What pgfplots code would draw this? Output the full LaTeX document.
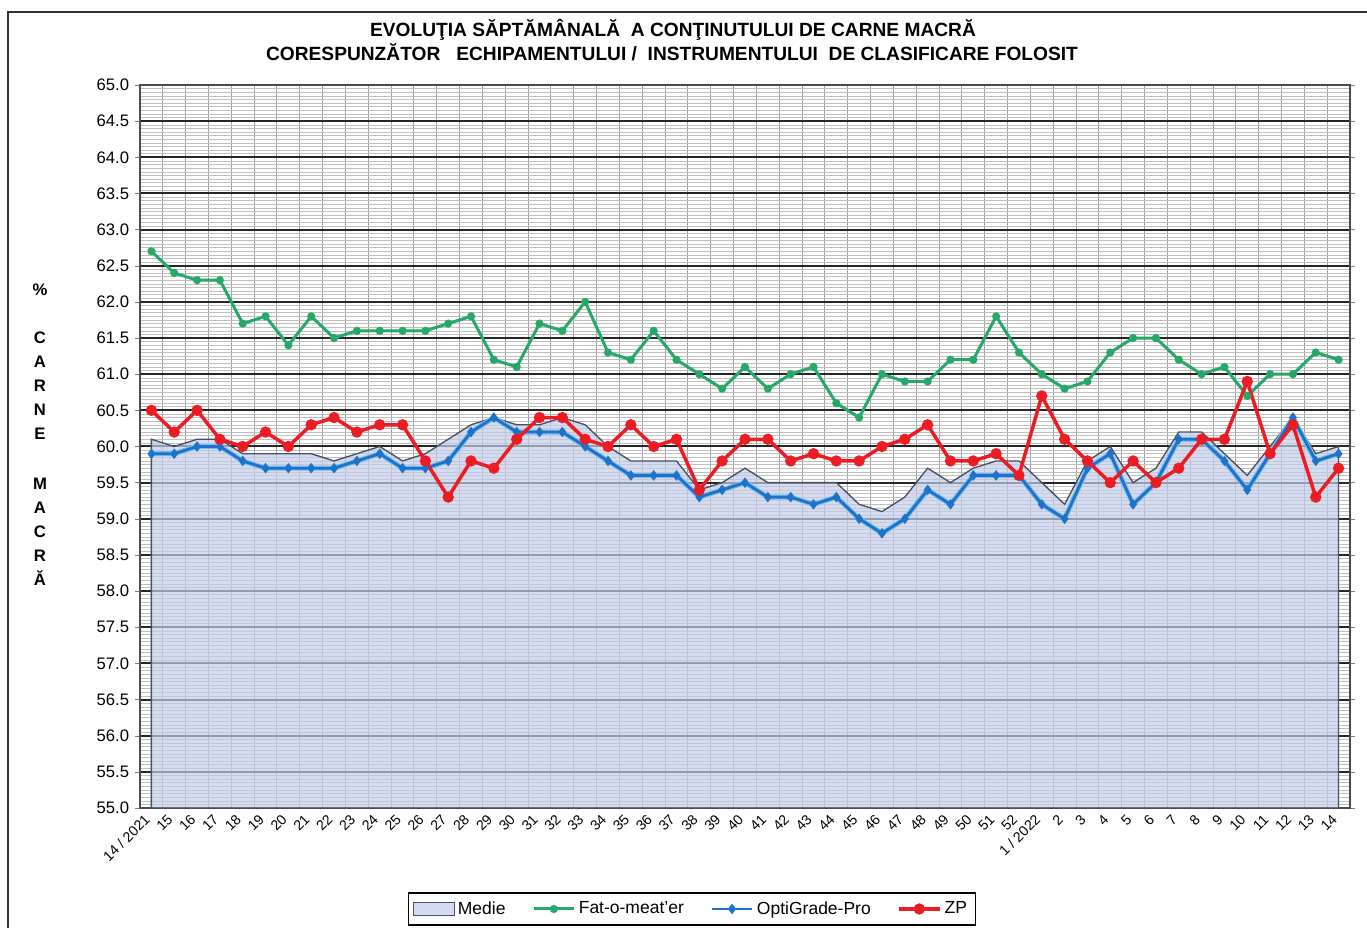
\documentclass[border=0pt]{standalone}
\usepackage{pgfplots}
\pgfplotsset{compat=1.18}
\usepackage{pgfplotstable}
\usepackage{fontspec}
\setmainfont{Liberation Sans}
\definecolor{cgreen}{RGB}{38,168,104}
\definecolor{cblue}{RGB}{30,115,200}
\definecolor{clblue}{RGB}{120,190,240}
\definecolor{cred}{RGB}{235,28,36}
\definecolor{cfill}{RGB}{196,205,232}
\definecolor{cmedie}{RGB}{70,80,100}
\pgfplotsset{medielegend/.style={legend image code/.code={\draw[draw=cmedie, fill=cfill, line width=0.6pt] (0cm,-0.13cm) rectangle (0.85cm,0.13cm);}}}

\pgfplotstableread{
x medie fat opti zp
0 60.1 62.7 59.9 60.5
1 60.0 62.4 59.9 60.2
2 60.1 62.3 60.0 60.5
3 60.1 62.3 60.0 60.1
4 59.9 61.7 59.8 60.0
5 59.9 61.8 59.7 60.2
6 59.9 61.4 59.7 60.0
7 59.9 61.8 59.7 60.3
8 59.8 61.5 59.7 60.4
9 59.9 61.6 59.8 60.2
10 60.0 61.6 59.9 60.3
11 59.8 61.6 59.7 60.3
12 59.9 61.6 59.7 59.8
13 60.1 61.7 59.8 59.3
14 60.3 61.8 60.2 59.8
15 60.4 61.2 60.4 59.7
16 60.3 61.1 60.2 60.1
17 60.3 61.7 60.2 60.4
18 60.4 61.6 60.2 60.4
19 60.3 62.0 60.0 60.1
20 60.0 61.3 59.8 60.0
21 59.8 61.2 59.6 60.3
22 59.8 61.6 59.6 60.0
23 59.8 61.2 59.6 60.1
24 59.4 61.0 59.3 59.4
25 59.5 60.8 59.4 59.8
26 59.7 61.1 59.5 60.1
27 59.5 60.8 59.3 60.1
28 59.5 61.0 59.3 59.8
29 59.5 61.1 59.2 59.9
30 59.5 60.6 59.3 59.8
31 59.2 60.4 59.0 59.8
32 59.1 61.0 58.8 60.0
33 59.3 60.9 59.0 60.1
34 59.7 60.9 59.4 60.3
35 59.5 61.2 59.2 59.8
36 59.7 61.2 59.6 59.8
37 59.8 61.8 59.6 59.9
38 59.8 61.3 59.6 59.6
39 59.5 61.0 59.2 60.7
40 59.2 60.8 59.0 60.1
41 59.8 60.9 59.7 59.8
42 60.0 61.3 59.9 59.5
43 59.5 61.5 59.2 59.8
44 59.7 61.5 59.5 59.5
45 60.2 61.2 60.1 59.7
46 60.2 61.0 60.1 60.1
47 59.9 61.1 59.8 60.1
48 59.6 60.7 59.4 60.9
49 60.0 61.0 59.9 59.9
50 60.4 61.0 60.4 60.3
51 59.9 61.3 59.8 59.3
52 60.0 61.2 59.9 59.7
}\datatable

\begin{document}
\begin{tikzpicture}
\useasboundingbox (0,0) rectangle (820.2pt,556.8pt);
\draw[black!80, line width=0.8pt] (4.8pt,0) -- (4.8pt,549.6pt) -- (820.2pt,549.6pt);
\node[font=\bfseries\fontsize{11.5}{13}\selectfont] at (403.8pt,538.8pt) {EVOLUŢIA SĂPTĂMÂNALĂ \ A CONŢINUTULUI DE CARNE MACRĂ};
\node[font=\bfseries\fontsize{11.5}{13}\selectfont] at (403.2pt,525.6pt) {CORESPUNZĂTOR \ \ ECHIPAMENTULUI / \ INSTRUMENTULUI \ DE CLASIFICARE FOLOSIT};
\node[font=\bfseries\fontsize{10}{14.4}\selectfont, align=center] at (24pt,296pt) {\%\\[14.4pt]C\\A\\R\\N\\E\\[16pt]M\\A\\C\\R\\Ă};
\begin{axis}[
  at={(84pt,72pt)}, anchor=south west,
  width=726pt, height=433.8pt, scale only axis,
  xmin=-0.5, xmax=52.5, ymin=55, ymax=65,
  ytick distance=0.5,
  minor y tick num=9,
  ymajorgrids, yminorgrids,
  major y grid style={black!85, line width=1.2pt},
  minor y grid style={gray!50, line width=0.3pt},
  xtick={0,...,52},
  xticklabels={14 / 2021,15,16,17,18,19,20,21,22,23,24,25,26,27,28,29,30,31,32,33,34,35,36,37,38,39,40,41,42,43,44,45,46,47,48,49,50,51,52,1 / 2022,2,3,4,5,6,7,8,9,10,11,12,13,14},
  minor xtick={-0.5,0.5,...,52.5},
  xminorgrids,
  minor x grid style={gray!75, line width=0.6pt},
  tick align=outside, major tick length=3pt, minor tick length=0pt,
  x tick style={draw=none},
  axis line style={black!70, line width=0.8pt},
  /pgf/number format/assume math mode=true,
  yticklabel style={/pgf/number format/fixed, /pgf/number format/fixed zerofill, /pgf/number format/precision=1, font=\fontsize{10}{12}\selectfont},
  xticklabel style={rotate=45, anchor=east, font=\fontsize{8.5}{10}\selectfont},
  legend style={at={(0.456,-0.1397)}, anchor=center, legend columns=4, draw=black, line width=0.8pt,
    font=\fontsize{10.5}{13}\selectfont, inner ysep=3pt, /tikz/every even column/.append style={column sep=14pt}},
  legend cell align=left,
  legend image code/.code={\draw[mark repeat=2,mark phase=2] plot coordinates {(0cm,0cm)(0.425cm,0cm)(0.85cm,0cm)};},
]
\addplot[draw=cmedie, line width=0.8pt, fill=cfill, fill opacity=0.7, medielegend]
  table[x=x,y=medie]{\datatable} \closedcycle;
\addlegendentry{Medie}
\addplot[color=cgreen, line width=1.8pt, mark=*, mark size=1.5pt] table[x=x,y=fat]{\datatable};
\addlegendentry{Fat-o-meat'er}
\addplot[color=clblue, line width=3pt, forget plot] table[x=x,y=opti]{\datatable};
\addplot[color=cblue, line width=1.7pt, mark=diamond*, mark size=1.8pt] table[x=x,y=opti]{\datatable};
\addlegendentry{OptiGrade-Pro}
\addplot[color=cred, line width=2.1pt, mark=*, mark size=2.3pt] table[x=x,y=zp]{\datatable};
\addlegendentry{ZP}
\end{axis}
\end{tikzpicture}
\end{document}
